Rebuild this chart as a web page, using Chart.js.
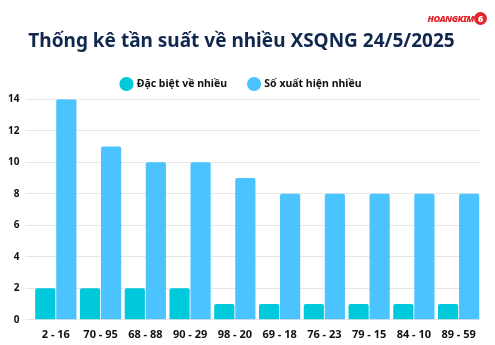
<!DOCTYPE html>
<html>
<head>
<meta charset="utf-8">
<script src="https://cdn.jsdelivr.net/npm/chart.js@4/dist/chart.umd.min.js"></script>
<style>
  html, body { margin: 0; padding: 0; background: #fff; }
  #wrap { position: relative; width: 495px; height: 345px; }
  #logo { position: absolute; right: 8px; top: 12px; font-family: "Noto Sans", sans-serif; font-weight: 900; font-style: italic; font-size: 9px; color: #e3262b; letter-spacing: -0.5px; }
  #logo span { display: inline-block; background: #e3262b; color: #fff; border-radius: 50%; width: 13px; height: 13px; line-height: 13px; text-align: center; font-size: 9px; font-style: normal; }
</style>
</head>
<body>
<div id="wrap">
  <canvas id="barChart" width="495" height="345"></canvas>
  <div id="logo">HOANGKIM<span>6</span></div>
</div>
<script>
const categories = ["2 - 16", "70 - 95", "68 - 88", "90 - 29", "98 - 20", "69 - 18", "76 - 23", "79 - 15", "84 - 10", "89 - 59"];
const specialValues = [2, 2, 2, 2, 1, 1, 1, 1, 1, 1];
const countValues = [14, 11, 10, 10, 9, 8, 8, 8, 8, 8];
const yTicks = [0, 2, 4, 6, 8, 10, 12, 14];

function renderBarChart() {
    const ctx = document.getElementById("barChart");

    new Chart(ctx, {
        type: "bar",
        data: {
            labels: categories,
            datasets: [{
                label: "Đặc biệt về nhiều",
                data: specialValues,
                backgroundColor: "#00c9dc",
                borderRadius: 2,
                borderSkipped: "bottom"
            }, {
                label: "Số xuất hiện nhiều",
                data: countValues,
                backgroundColor: "#4bc3ff",
                borderRadius: 2,
                borderSkipped: "bottom"
            }]
        },
        options: {
            responsive: false,
            animation: false,
            categoryPercentage: 0.94,
            barPercentage: 0.96,
            layout: { padding: { left: 2, right: 14, top: 0, bottom: 4 } },
            plugins: {
                title: {
                    display: true,
                    text: "Thống kê tần suất về nhiều XSQNG 24/5/2025",
                    color: "#10284e",
                    font: { family: "Noto Sans", size: 19, weight: "bold" },
                    padding: { top: 30, bottom: 4 }
                },
                legend: {
                    labels: {
                        usePointStyle: true,
                        pointStyle: "circle",
                        boxWidth: 10,
                        boxHeight: 10,
                        color: "#111",
                        padding: 22,
                        font: { family: "Noto Sans", size: 10.5, weight: "bold" }
                    }
                },
                tooltip: { enabled: false }
            },
            scales: {
                x: {
                    grid: { display: false },
                    border: { display: false },
                    ticks: { color: "#111", padding: 0, font: { family: "Noto Sans", size: 11, weight: "bold" } }
                },
                y: {
                    min: 0,
                    max: 14,
                    afterBuildTicks: axis => { axis.ticks = yTicks.map(v => ({ value: v })); },
                    grid: { color: "#e6e6e6" },
                    border: { display: false },
                    ticks: { color: "#111", padding: 6, font: { family: "Noto Sans", size: 10, weight: "bold" } }
                }
            }
        }
    });
}

renderBarChart();
</script>
</body>
</html>
